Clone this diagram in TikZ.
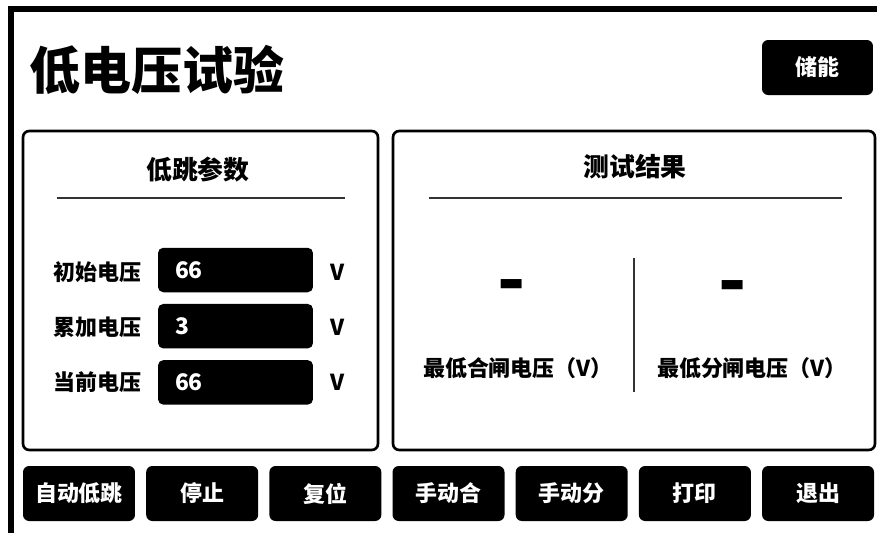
\documentclass[tikz,border=0pt]{standalone}
\usepackage{fontspec}
\setmainfont{Noto Sans CJK SC}
\usepackage{tikz}
\usetikzlibrary{positioning}

\begin{document}
\begin{tikzpicture}[
    x=0.02cm, y=-0.02cm,
    node distance=0.22cm,
    panel/.style={rectangle, draw, line width=1.5pt, rounded corners=3.5pt, minimum width=#1, minimum height=6.38cm},
    key/.style={rectangle, fill=black, text=white, rounded corners=3.5pt, minimum width=2.24cm, minimum height=1.1cm, inner sep=0pt, font=\bfseries\fontsize{12.5}{14}\selectfont},
    field/.style={rectangle, fill=black, text=white, rounded corners=3pt, minimum width=3.1cm, minimum height=0.89cm, text width=2.42cm, align=left, inner sep=0pt, font=\bfseries\fontsize{13}{15}\selectfont},
    label/.style={inner sep=0pt, font=\bfseries\fontsize{12.5}{14}\selectfont},
    head/.style={inner sep=0pt, font=\bfseries\fontsize{14.7}{17}\selectfont},
    blank/.style={inner sep=0pt, font=\bfseries\fontsize{42}{44}\selectfont},
    rule/.style={line width=0.8pt, black!80}
]
\useasboundingbox[fill=white] (0,0) rectangle (877,532);

% outer frame
\draw[line width=3pt] (11,540) -- (11,9) -- (890,9);

\node[inner sep=0pt, anchor=west, font=\bfseries\fontsize{29}{33}\selectfont] (title) at (29,70) {低电压试验};
\node[key, minimum width=2.22cm] (store) at (817.5,67.5) {储能};

% parameter panel
\node[panel=7.1cm] (params) at (200.5,290.5) {};
\node[head] (paramhead) at (198,170) {低跳参数};
\draw[rule] (57,198) -- (345,198);

\node[field] (start) at (235.5,270) {66};
\node[field, below=of start] (accum) {3};
\node[field, below=of accum] (now) {66};

\node[label, anchor=west] (startlbl) at (53,272) {初始电压};
\node[label, anchor=west] (accumlbl) at (53,327) {累加电压};
\node[label, anchor=west] (nowlbl) at (53,382) {当前电压};

\node[label] (startunit) at (338,272) {V};
\node[label] (accumunit) at (338,327) {V};
\node[label] (nowunit) at (338,382) {V};

% result panel
\node[panel=9.64cm] (results) at (634,290.5) {};
\node[head] (resulthead) at (635,167) {测试结果};
\draw[rule] (429,198) -- (842,198);
\draw[rule] (634,258) -- (634,392);

\node[blank] (closeval) at (512,293) {-};
\node[blank] (openval) at (733,294) {-};
\node[label] (closelbl) at (518,368) {最低合闸电压（V）};
\node[label] (openlbl) at (752,368) {最低分闸电压（V）};

% bottom keys
\node[key] (auto) at (79,493.5) {自动低跳};
\node[key, right=0.21cm of auto] (stop) {停止};
\node[key, right=0.21cm of stop] (reset) {复位};
\node[key, right=0.21cm of reset] (close) {手动合};
\node[key, right=0.21cm of close] (open) {手动分};
\node[key, right=0.21cm of open] (print) {打印};
\node[key, right=0.21cm of print] (quit) {退出};

\end{tikzpicture}
\end{document}
